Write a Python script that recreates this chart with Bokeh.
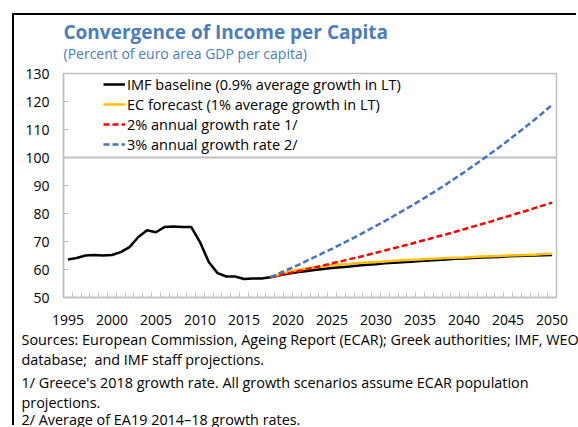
from bokeh.plotting import figure
from bokeh.models import (Legend, LegendItem, FixedTicker, Range1d, Title)
from bokeh.embed import file_html
from bokeh.resources import INLINE

FONT = "Open Sans"

# ---------------- data ----------------
years_hist = list(range(1995, 2018))
imf_hist = [63.6, 64.1, 65.0, 65.2, 65.0, 65.2, 66.2, 68.0, 71.6, 74.0, 73.3, 75.2,
            75.4, 75.2, 75.2, 69.8, 62.7, 58.7, 57.5, 57.5, 56.6, 56.8, 56.8]

years_proj = list(range(2018, 2051))
imf_proj = [57.2, 57.9, 58.5, 59.0, 59.4, 59.8, 60.2, 60.5, 60.8, 61.1, 61.4, 61.7,
            61.9, 62.2, 62.4, 62.6, 62.8, 63.0, 63.2, 63.4, 63.6, 63.8, 63.9, 64.1,
            64.3, 64.4, 64.5, 64.7, 64.8, 64.9, 65.0, 65.1, 65.2]
ec_proj = [57.2, 58.2, 59.1, 59.8, 60.4, 60.8, 61.2, 61.5, 61.8, 62.0, 62.3, 62.5,
           62.7, 62.9, 63.1, 63.3, 63.5, 63.6, 63.8, 63.9, 64.1, 64.2, 64.3, 64.5,
           64.6, 64.7, 64.8, 65.0, 65.1, 65.2, 65.3, 65.5, 65.6]
g2_proj = [57.2, 57.9, 58.6, 59.3, 60.0, 60.7, 61.4, 62.2, 62.9, 63.7, 64.4, 65.2,
           66.0, 66.8, 67.6, 68.4, 69.2, 70.1, 70.9, 71.8, 72.6, 73.5, 74.4, 75.3,
           76.2, 77.1, 78.1, 79.0, 80.0, 80.9, 81.9, 82.9, 83.9]
g3_proj = [57.2, 58.6, 60.0, 61.4, 62.9, 64.4, 65.9, 67.4, 69.0, 70.6, 72.2, 73.9,
           75.6, 77.3, 79.1, 80.9, 82.7, 84.6, 86.5, 88.5, 90.5, 92.6, 94.7, 96.9,
           99.1, 101.4, 103.7, 106.1, 108.5, 111.0, 113.5, 116.1, 118.8]

x_tick_labels = [1995, 2000, 2005, 2010, 2015, 2020, 2025, 2030, 2035, 2040, 2045, 2050]
y_ticks = [50, 60, 70, 80, 90, 100, 110, 120, 130]

series_labels = ["IMF baseline (0.9% average growth in LT)",
                 "EC forecast (1% average growth in LT)",
                 "2% annual growth rate 1/",
                 "3% annual growth rate 2/"]

title_text = "Convergence of Income per Capita"
subtitle_text = "(Percent of euro area GDP per capita)"
notes = ["Sources: European Commission, Ageing Report (ECAR); Greek authorities; IMF, WEO",
         "database;\u00a0 and IMF staff projections.",
         "1/ Greece's 2018 growth rate. All growth scenarios assume ECAR population",
         "projections.",
         "2/ Average of EA19 2014\u201318 growth rates."]

# ---------------- figure ----------------
p = figure(width=564, height=412, output_backend="svg", toolbar_location=None,
           x_range=Range1d(1994.5, 2050.5), y_range=Range1d(50, 130),
           min_border_left=49, min_border_right=22, min_border_top=58,
           min_border_bottom=130, margin=(15, 0, 0, 14),
           styles={"box-shadow": "-2px -2px 0px 0px black"})
p.background_fill_color = "white"
p.border_fill_color = "white"
p.outline_line_color = "#BFBFBF"
p.outline_line_width = 1.5

GRAY = "#BFBFBF"
# y axis
p.yaxis.ticker = FixedTicker(ticks=y_ticks, minor_ticks=[])
p.yaxis.axis_line_color = GRAY
p.yaxis.axis_line_width = 1.5
p.yaxis.major_tick_line_color = GRAY
p.yaxis.major_tick_in = 5
p.yaxis.major_tick_out = 0
p.yaxis.minor_tick_line_color = None
p.yaxis.major_label_standoff = 14
p.yaxis.major_label_text_font = FONT
p.yaxis.major_label_text_font_size = "14px"
p.yaxis.major_label_text_color = "black"

# x axis
p.xaxis.ticker = FixedTicker(ticks=x_tick_labels,
                             minor_ticks=[y + 0.5 for y in range(1994, 2051)])
p.xaxis.axis_line_color = GRAY
p.xaxis.axis_line_width = 1.5
p.xaxis.major_tick_line_color = None
p.xaxis.minor_tick_line_color = GRAY
p.xaxis.minor_tick_in = 5
p.xaxis.minor_tick_out = 0
p.xaxis.major_label_standoff = 11
p.xaxis.major_label_text_font = FONT
p.xaxis.major_label_text_font_size = "14px"
p.xaxis.major_label_text_color = "black"

p.xgrid.grid_line_color = None
p.ygrid.ticker = FixedTicker(ticks=[100])
p.ygrid.grid_line_color = GRAY
p.ygrid.grid_line_width = 2

# ---------------- series ----------------
r_imf = p.line(years_hist + years_proj, imf_hist + imf_proj, line_color="black", line_width=2.5)
r_ec = p.line(years_proj, ec_proj, line_color="#FFC000", line_width=2.5)
r_g2 = p.line(years_proj, g2_proj, line_color="#FF0000", line_width=2.5, line_dash="6 3")
r_g3 = p.line(years_proj, g3_proj, line_color="#4472C4", line_width=2.5, line_dash="6 3")

legend = Legend(items=[LegendItem(label=series_labels[0], renderers=[r_imf]),
                       LegendItem(label=series_labels[1], renderers=[r_ec]),
                       LegendItem(label=series_labels[2], renderers=[r_g2]),
                       LegendItem(label=series_labels[3], renderers=[r_g3])],
                location=(40, 143), margin=0, padding=0, spacing=0,
                glyph_width=22, glyph_height=20, label_height=20,
                label_standoff=2, border_line_color=None,
                background_fill_alpha=0,
                label_text_font=FONT, label_text_font_size="14.5px",
                label_text_color="black")
p.add_layout(legend, "center")

# ---------------- texts ----------------
BLUE_T = "#4A7EBB"
p.add_layout(Title(text=subtitle_text, align="left", offset=0, standoff=22,
                   text_font=FONT, text_font_size="14px", text_font_style="normal",
                   text_color=BLUE_T), "above")
p.add_layout(Title(text=title_text, align="left", offset=0, standoff=-28,
                   text_font=FONT, text_font_size="19px", text_font_style="bold",
                   text_color=BLUE_T), "above")

note_standoffs = [0, -1, 4, -5, -4]
for t, s in zip(notes, note_standoffs):
    p.add_layout(Title(text=t, align="left", offset=-42, standoff=s,
                       text_font=FONT, text_font_size="14.4px", text_font_style="normal",
                       text_color="black"), "below")

open("out.html", "w").write(file_html(p, INLINE))
